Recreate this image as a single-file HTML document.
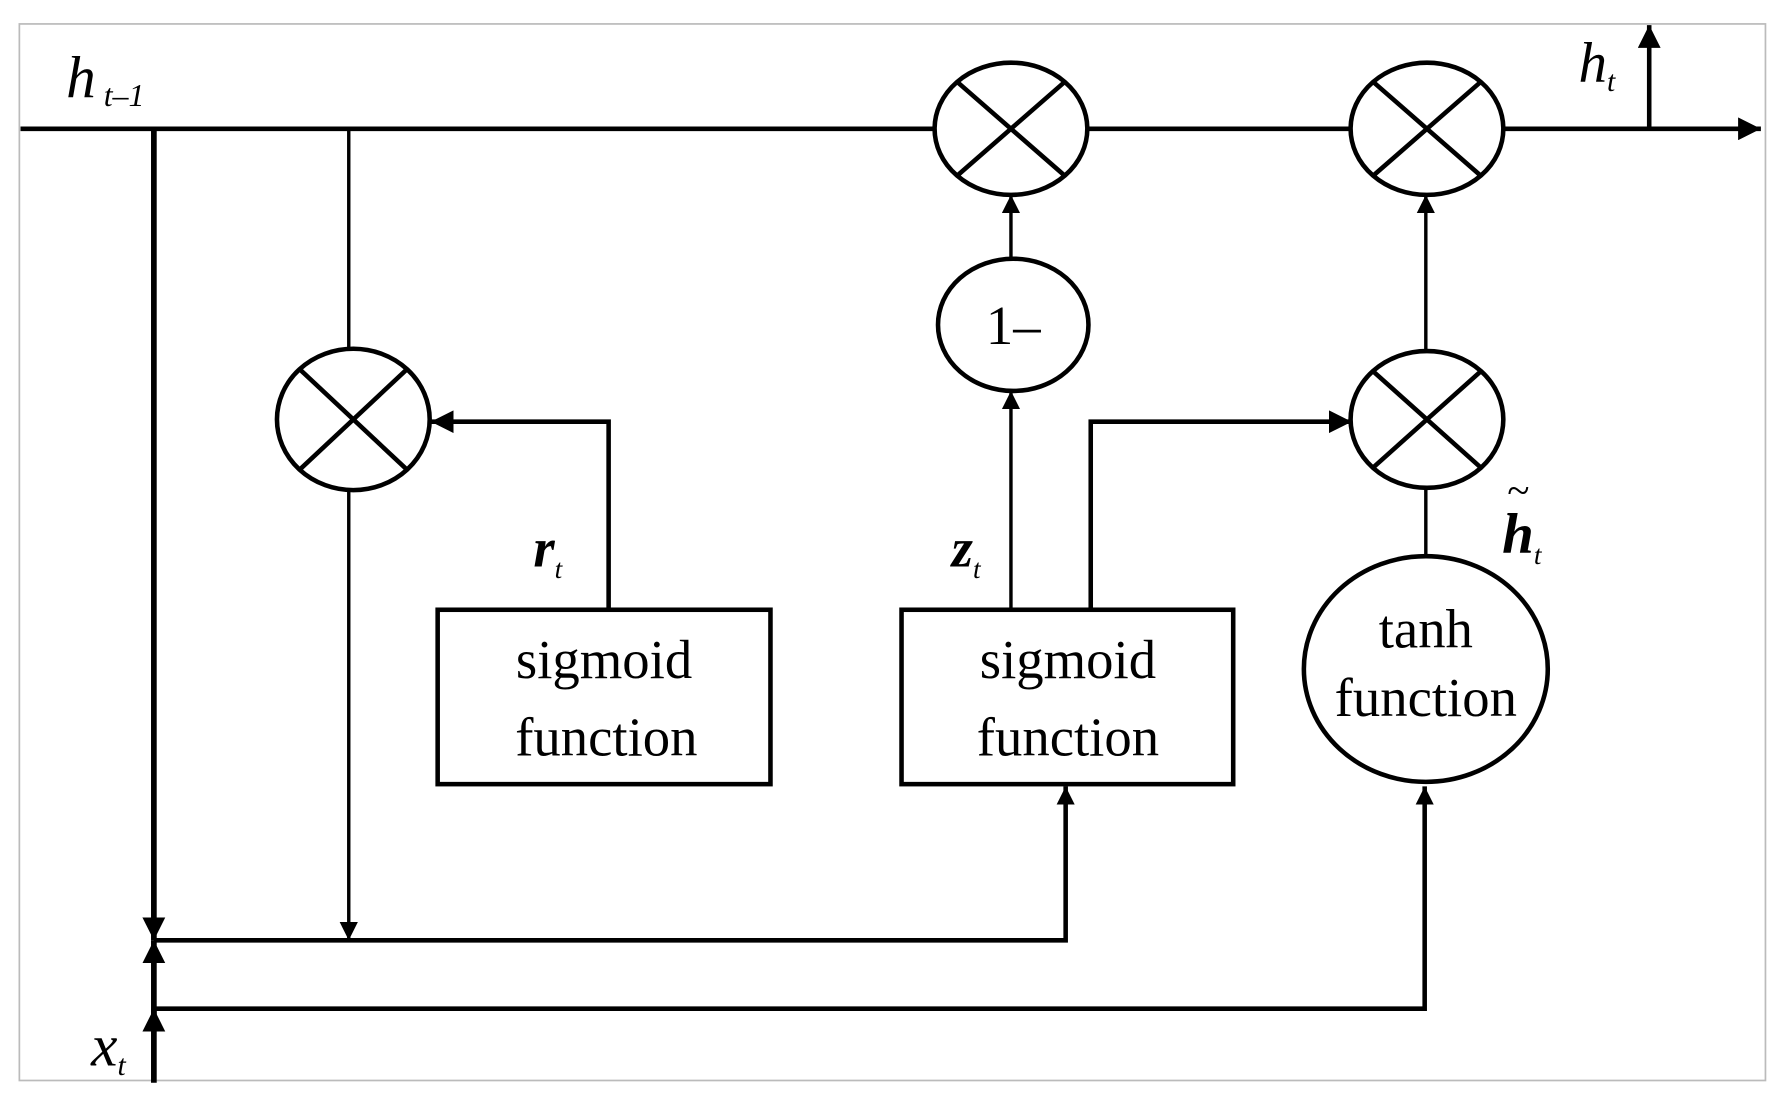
<!DOCTYPE html>
<html><head><style>html,body{margin:0;padding:0;background:#fff}svg{display:block}</style></head>
<body>
<svg width="1778" height="1101" viewBox="0 0 1560 966" preserveAspectRatio="none" xmlns="http://www.w3.org/2000/svg">
<defs>
<marker id="a" viewBox="0 0 10 10" refX="10" refY="5" markerWidth="16" markerHeight="16" markerUnits="userSpaceOnUse" orient="auto"><path d="M0,0 L10,5 L0,10 z" fill="#000"/></marker>
<marker id="b" viewBox="0 0 10 10" refX="10" refY="5" markerWidth="20" markerHeight="20" markerUnits="userSpaceOnUse" orient="auto"><path d="M0,0 L10,5 L0,10 z" fill="#000"/></marker>
</defs>
<rect x="17" y="21" width="1532" height="927" fill="#fff" stroke="#bbb" stroke-width="1.5"/>
<g stroke="#000" fill="none">
<!-- main line -->
<line x1="18" y1="113" x2="820" y2="113" stroke-width="4"/>
<line x1="955" y1="113" x2="1185" y2="113" stroke-width="4"/>
<line x1="1320" y1="113" x2="1545" y2="113" stroke-width="4" marker-end="url(#b)"/>
<line x1="1447" y1="113" x2="1447" y2="22" stroke-width="4" marker-end="url(#b)"/>
<!-- left thick vertical -->
<line x1="135" y1="113" x2="135" y2="825" stroke-width="5" marker-end="url(#b)"/>
<line x1="135" y1="950" x2="135" y2="825" stroke-width="5" marker-end="url(#b)"/>
<line x1="135" y1="905" x2="135" y2="885" stroke-width="5" marker-end="url(#b)"/>
<!-- thin vertical x=305 -->
<line x1="306" y1="113" x2="306" y2="306" stroke-width="3"/>
<line x1="306" y1="430" x2="306" y2="825" stroke-width="3" marker-end="url(#a)"/>
<!-- bottom buses -->
<polyline points="135,825 935,825 935,690" stroke-width="4" marker-end="url(#a)"/>
<polyline points="135,885 1250,885 1250,690" stroke-width="4" marker-end="url(#a)"/>
<!-- r_t -->
<polyline points="534,535 534,370 378,370" stroke-width="4" marker-end="url(#b)"/>
<!-- z_t -->
<line x1="887" y1="535" x2="887" y2="343" stroke-width="3" marker-end="url(#a)"/>
<line x1="887" y1="228" x2="887" y2="171" stroke-width="3" marker-end="url(#a)"/>
<polyline points="957,535 957,370 1186,370" stroke-width="4" marker-end="url(#b)"/>
<!-- tanh path -->
<line x1="1251" y1="490" x2="1251" y2="428" stroke-width="3"/>
<line x1="1251" y1="308" x2="1251" y2="171" stroke-width="3" marker-end="url(#a)"/>
<!-- multiply circles -->
<g stroke-width="4">
<ellipse cx="887" cy="113" rx="67" ry="58" fill="#fff"/>
<line x1="840" y1="72" x2="934" y2="154"/><line x1="934" y1="72" x2="840" y2="154"/>
<ellipse cx="1252" cy="113" rx="67" ry="58" fill="#fff"/>
<line x1="1205" y1="72" x2="1299" y2="154"/><line x1="1299" y1="72" x2="1205" y2="154"/>
<ellipse cx="310" cy="368" rx="67" ry="62" fill="#fff"/>
<line x1="263" y1="324" x2="357" y2="412"/><line x1="357" y1="324" x2="263" y2="412"/>
<ellipse cx="1252" cy="368" rx="67" ry="60" fill="#fff"/>
<line x1="1205" y1="326" x2="1299" y2="410"/><line x1="1299" y1="326" x2="1205" y2="410"/>
<ellipse cx="889" cy="285" rx="66" ry="58" fill="#fff"/>
<ellipse cx="1251" cy="587" rx="107" ry="99" fill="#fff"/>
<rect x="384" y="535" width="292" height="153" fill="#fff"/>
<rect x="791" y="535" width="291" height="153" fill="#fff"/>
</g>
</g>
<g font-family="Liberation Serif, serif" fill="#000" text-anchor="middle" font-size="48">
<text x="889" y="302">1–</text>
<text x="530" y="595">sigmoid</text>
<text x="532" y="663">function</text>
<text x="937" y="595">sigmoid</text>
<text x="937" y="663">function</text>
<text x="1251" y="568">tanh</text>
<text x="1251" y="628">function</text>
</g>
<g font-family="Liberation Serif, serif" fill="#000" font-style="italic">
<text x="58" y="85" font-size="52">h<tspan font-size="28" dy="8"> t–1</tspan></text>
<text x="1385" y="72" font-size="50">h<tspan font-size="26" dy="8">t</tspan></text>
<text x="468" y="497" font-size="48" font-weight="bold">r<tspan font-size="24" font-weight="normal" dy="10">t</tspan></text>
<text x="835" y="497" font-size="48" font-weight="bold">z<tspan font-size="24" font-weight="normal" dy="10">t</tspan></text>
<text x="1318" y="485" font-size="50" font-weight="bold">h<tspan font-size="24" font-weight="normal" dy="10">t</tspan></text>
<text x="1322" y="442" font-size="36">~</text>
<text x="80" y="935" font-size="52">x<tspan font-size="26" dy="8">t</tspan></text>
</g>
</svg>
</body></html>
